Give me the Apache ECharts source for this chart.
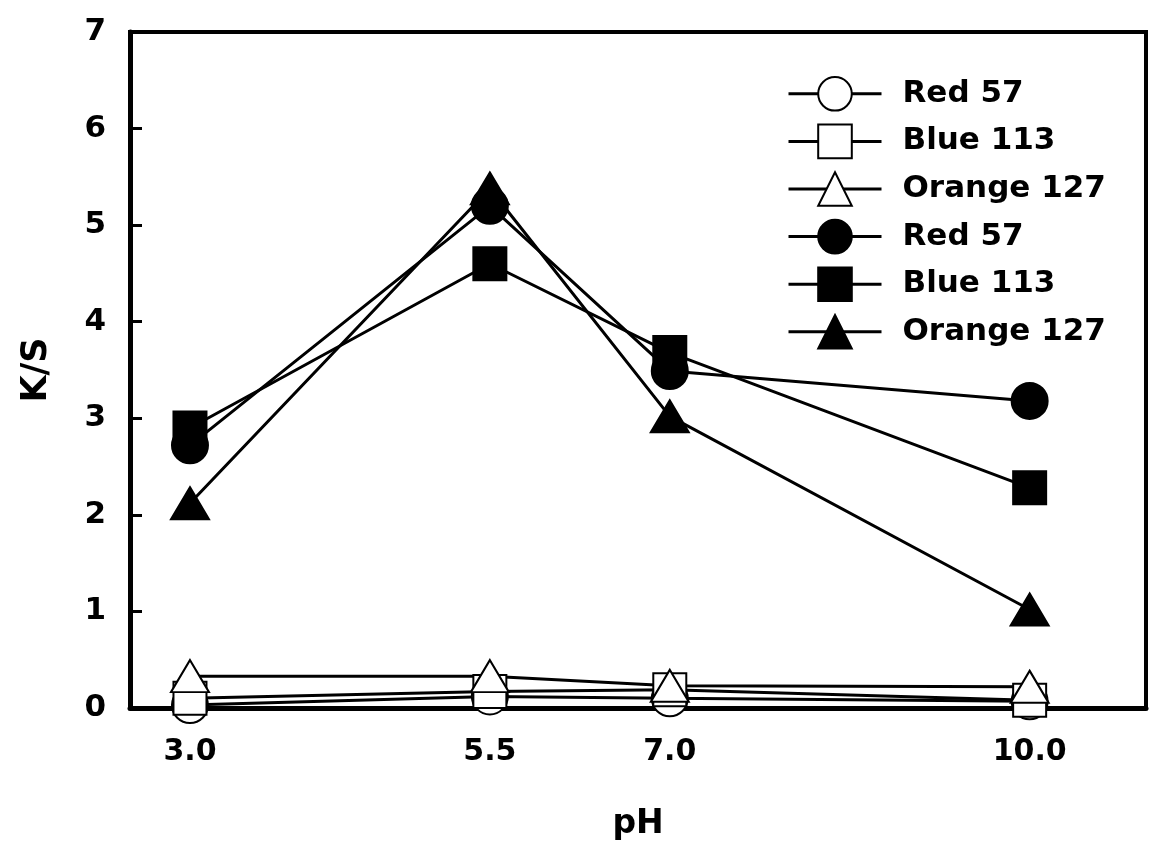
<!DOCTYPE html>
<html>
<head>
<meta charset="utf-8">
<script src="https://cdn.jsdelivr.net/npm/echarts@6/dist/echarts.min.js"></script>
<style>
  html, body { margin: 0; padding: 0; background: #fff; }
  #chart { width: 1149px; height: 846px; }
</style>
</head>
<body>
<div id="chart"></div>
<script>
// pH values (x positions)
const phValues = [3.0, 5.5, 7.0, 10.0];
// x tick labels shown
const xTickLabels = [3.0, 5.5, 7.0, 10.0];
// Open-marker series (K/S)
const red57Open = [0.03, 0.12, 0.10, 0.07];
const blue113Open = [0.10, 0.17, 0.19, 0.08];
const orange127Open = [0.33, 0.33, 0.23, 0.22];
// Filled-marker series (K/S)
const red57Filled = [2.72, 5.20, 3.49, 3.18];
const blue113Filled = [2.90, 4.60, 3.68, 2.28];
const orange127Filled = [2.12, 5.38, 3.02, 1.02];
const seriesNames = ['Red 57', 'Blue 113', 'Orange 127'];

const FONT = 'DejaVu Sans';
const chart = echarts.init(document.getElementById('chart'), null, { renderer: 'canvas' });

function pts(vals) { return phValues.map((x, i) => [x, vals[i]]); }

function mk(name, vals, symbol, size, filled) {
  return {
    name: name,
    type: 'line',
    data: pts(vals),
    symbol: symbol,
    symbolSize: size,
    showAllSymbol: true,
    lineStyle: { color: '#000', width: 3 },
    itemStyle: { color: filled ? '#000' : '#fff', borderColor: '#000', borderWidth: 2 },
    emphasis: { disabled: true },
    z: filled ? 3 : 2,
    animation: false
  };
}

const option = {
  animation: false,
  backgroundColor: '#fff',
  grid: {
    left: 130, top: 32, width: 1016, height: 679,
    show: true, borderColor: '#000', borderWidth: 4, backgroundColor: 'transparent'
  },
  legend: {
    orient: 'vertical',
    left: 782, top: 71,
    itemWidth: 93, itemHeight: 42, itemGap: 12,
    lineStyle: { width: 3, color: '#000' },
    textStyle: { fontFamily: FONT, fontWeight: 'bold', fontSize: 31, color: '#000', padding: [0, 0, 0, 16] },
    data: [0,1,2,3,4,5].map(i => ({ name: i < 3 ? seriesNames[i] : seriesNames[i - 3] + ' ' })),
    selectedMode: false
  },
  xAxis: {
    type: 'value',
    min: 2.5, max: 10.97, interval: 0.5,
    name: 'pH', nameLocation: 'middle', nameGap: 100,
    nameTextStyle: { fontFamily: FONT, fontWeight: 'bold', fontSize: 33, color: '#000' },
    axisLine: { lineStyle: { color: '#000', width: 5 } },
    axisTick: { show: false },
    splitLine: { show: false },
    axisLabel: {
      margin: 29, fontFamily: FONT, fontWeight: 'bold', fontSize: 30, color: '#000',
      showMinLabel: true, showMaxLabel: true,
      formatter: function (v) {
        for (const t of xTickLabels) { if (Math.abs(v - t) < 1e-6) return t.toFixed(1); }
        return '';
      }
    }
  },
  yAxis: {
    type: 'value',
    min: 0, max: 7, interval: 1,
    name: 'K/S', nameLocation: 'middle', nameGap: 76, nameRotate: 90,
    nameTextStyle: { fontFamily: FONT, fontWeight: 'bold', fontSize: 35, color: '#000' },
    axisLine: { show: true, lineStyle: { color: '#000', width: 5 } },
    axisTick: { show: true, inside: true, length: 12, lineStyle: { color: '#000', width: 3 } },
    splitLine: { show: false },
    axisLabel: { margin: 24, fontFamily: FONT, fontWeight: 'bold', fontSize: 31, color: '#000' }
  },
  series: [
    mk(seriesNames[0], red57Open, 'circle', 36, false),
    mk(seriesNames[1], blue113Open, 'rect', 33, false),
    mk(seriesNames[2], orange127Open, 'triangle', [38, 32], false),
    mk(seriesNames[0] + ' ', red57Filled, 'circle', 36, true),
    mk(seriesNames[1] + ' ', blue113Filled, 'rect', 33, true),
    mk(seriesNames[2] + ' ', orange127Filled, 'triangle', [38, 32], true)
  ]
};
chart.setOption(option);
</script>
</body>
</html>
